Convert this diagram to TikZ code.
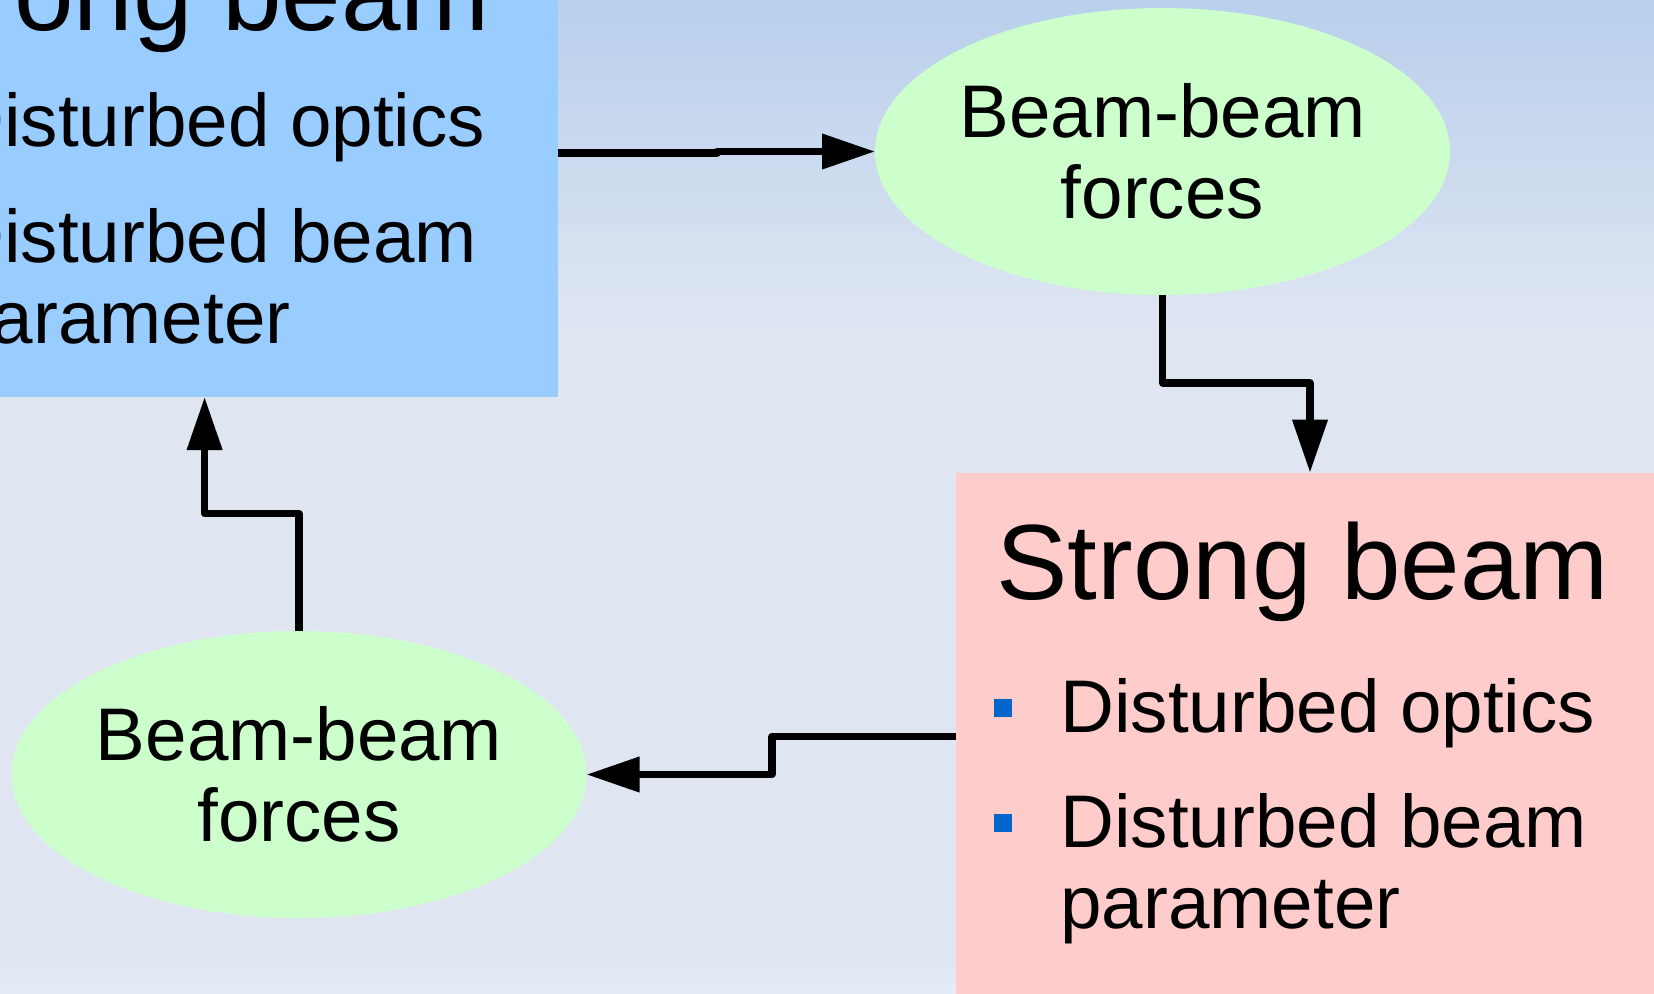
\documentclass[tikz,border=0pt]{standalone}
\usepackage{fontspec}
\setmainfont{Liberation Sans}
\usetikzlibrary{shapes.geometric,arrows.meta}
\definecolor{bgtop}{RGB}{185,207,236}
\definecolor{bgmid}{RGB}{223,230,242}
\definecolor{bgbot}{RGB}{230,236,247}
\definecolor{weakfill}{RGB}{153,204,255}
\definecolor{strongfill}{RGB}{255,204,204}
\definecolor{forcefill}{RGB}{204,255,204}
\definecolor{bulletblue}{RGB}{0,102,204}

\begin{document}
\begin{tikzpicture}[x=0.5pt,y=-0.5pt,
  beambox/.style={rectangle,draw=none,inner sep=0,outer sep=0,
    minimum width=357pt,minimum height=255pt},
  forces/.style={ellipse,fill=forcefill,draw=none,inner sep=0,outer sep=0,
    minimum width=287.5pt,minimum height=143.5pt,align=center,
    font=\fontsize{37.3pt}{40.5pt}\selectfont},
  titletext/.style={anchor=base west,inner sep=0,
    font=\fontsize{53.5pt}{60pt}\selectfont},
  itemtext/.style={anchor=base west,inner sep=0,
    font=\fontsize{37.3pt}{41pt}\selectfont},
  bulletsq/.style={rectangle,fill=bulletblue,inner sep=0,
    minimum width=9pt,minimum height=9pt},
  link/.style={line width=3.6pt,line join=round,
    -{Triangle[length=26.5pt,width=17pt]}}]

\useasboundingbox (0,0) rectangle (1654,993);
\clip (0,0) rectangle (1654,993);

% background
\shade[top color=bgtop,bottom color=bgmid] (0,0) rectangle (1654,330);
\fill[bgmid] (0,329) rectangle (1654,958);
\shade[top color=bgmid,bottom color=bgbot] (0,957) rectangle (1654,993);

% upper-left beam box
\node[beambox,fill=weakfill] (wbox) at (201,142) {};
\node[titletext] (wtitle) at (-123,30) {Strong beam};
\node[bulletsq] (wb1) at (-107,122) {};
\node[itemtext] (wi1) at (-50,146) {Disturbed optics};
\node[bulletsq] (wb2) at (-107,238) {};
\node[itemtext] (wi2) at (-50,262) {Disturbed beam};
\node[itemtext] (wi3) at (-50,343) {parameter};

% lower-right beam box
\node[beambox,fill=strongfill,minimum height=268.7pt] (sbox) at (1312.6,741.3) {};
\node[titletext] (stitle) at (996,599) {Strong beam};
\node[bulletsq] (sb1) at (1003,707.5) {};
\node[itemtext] (si1) at (1060,732) {Disturbed optics};
\node[bulletsq] (sb2) at (1003,823) {};
\node[itemtext] (si2) at (1060,847) {Disturbed beam};
\node[itemtext] (si3) at (1060,928) {parameter};

% beam-beam force ellipses
\node[forces] (ftop) at (1162.5,151.5) {Beam-beam\\forces};
\node[forces] (fbot) at (299,774.5) {Beam-beam\\forces};

% connectors
\draw[link] (wbox.east |- 0,153) -- (717,153) -- (717,151.5) -- (ftop.west);
\draw[link] (ftop.south) |- (1310,383) -- (sbox.north -| 1310,0);
\draw[link] (sbox.west |- 0,736.5) -- (772,736.5) -- (772,774.5) -- (fbot.east);
\draw[link] (fbot.north) |- (204.6,513.7) -- (wbox.south -| 204.6,0);

\end{tikzpicture}
\end{document}
